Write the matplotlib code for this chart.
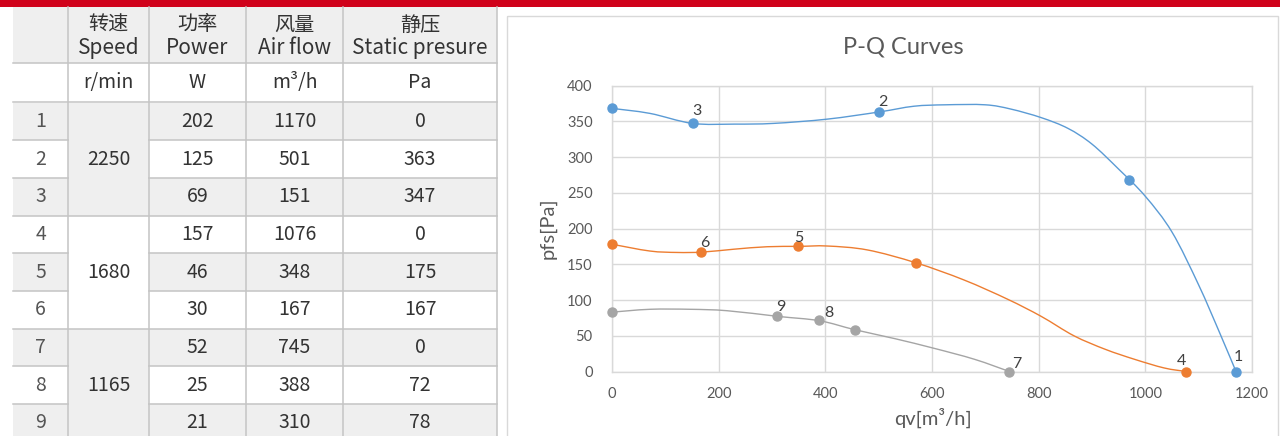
import numpy as np
import matplotlib
matplotlib.use("Agg")
import matplotlib.pyplot as plt
from matplotlib.path import Path
from matplotlib.patches import PathPatch, Rectangle

# ---------------- data ----------------
point_no = ["1", "2", "3", "4", "5", "6", "7", "8", "9"]
speed_groups = ["2250", "1680", "1165"]
power = [202, 125, 69, 157, 46, 30, 52, 25, 21]
airflow = [1170, 501, 151, 1076, 348, 167, 745, 388, 310]
pressure = [0, 363, 347, 0, 175, 167, 0, 72, 78]

header_cn = ["", "转速", "功率", "风量", "静压"]
header_en = ["", "Speed", "Power", "Air flow", "Static presure"]
header_unit = ["", "r/min", "W", "m³/h", "Pa"]

# curves (qv, pfs)
blue_q = [0, 71, 151, 230, 303, 404, 501, 566, 625, 700, 748, 805, 855, 900, 950, 1000, 1050, 1100, 1140, 1170]
blue_p = [368, 361, 347, 346, 347, 353, 363, 371, 373, 373, 367, 355, 340, 318, 283, 245, 195, 121, 53, 0]
orange_q = [0, 71, 122, 169, 228, 291, 350, 404, 479, 570, 660, 742, 805, 866, 925, 980, 1035, 1076]
orange_p = [178, 168.5, 166.5, 167, 171, 174.5, 175, 175.5, 170, 152, 128, 101, 77, 50, 31, 17, 5, 0]
gray_q = [0, 71, 147, 216, 312, 389, 455, 530, 604, 680, 745]
gray_p = [83, 87, 87, 85, 77, 71, 58.5, 46, 32.4, 17, 0]

# extra (unlabelled) markers
blue_extra_q, blue_extra_p = [0, 970], [368, 268]
orange_extra_q, orange_extra_p = [0, 570], [178, 152]
gray_extra_q, gray_extra_p = [0, 455], [83, 58.5]

x_ticks = [0, 200, 400, 600, 800, 1000, 1200]
y_ticks = [0, 50, 100, 150, 200, 250, 300, 350, 400]

BLUE, ORANGE, GRAY = "#5B9BD5", "#ED7D31", "#A5A5A5"

W, H = 1280, 436
fig = plt.figure(figsize=(W / 100, H / 100), dpi=100)
bg = fig.add_axes([0, 0, 1, 1])
bg.set_xlim(0, W)
bg.set_ylim(H, 0)
bg.axis("off")

CJK = ["Noto Sans CJK SC", "DejaVu Sans"]

# red bar
bg.add_patch(Rectangle((0, 0), W, 7.5, color="#D0021B", lw=0))

# ---------------- table ----------------
col_x = [13, 68, 149, 246, 343, 497]
col_c = [(col_x[i] + col_x[i + 1]) / 2 for i in range(5)]
h1_top, h1_bot, h2_bot = 7.5, 63.5, 102.5
row_h = 37.7
row_y = [h2_bot + i * row_h for i in range(10)]
cell_gray = "#EFEFEF"
line_c = "#C4C4C4"
txt_c = "#333333"

bg.add_patch(Rectangle((col_x[0], h1_top), col_x[-1] - col_x[0], h1_bot - h1_top, color=cell_gray, lw=0))
for i in range(9):
    if i % 2 == 0:
        for c in [0, 2, 3, 4]:
            bg.add_patch(Rectangle((col_x[c], row_y[i]), col_x[c + 1] - col_x[c], row_h, color=cell_gray, lw=0))
for g in range(3):
    if g % 2 == 0:
        bg.add_patch(Rectangle((col_x[1], row_y[3 * g]), col_x[2] - col_x[1], 3 * row_h, color=cell_gray, lw=0))

lw = 1.1
for y in [h1_bot, h2_bot]:
    bg.plot([col_x[0], col_x[-1]], [y, y], color=line_c, lw=lw)
for i in range(1, 10):
    y = row_y[i]
    if i % 3 == 0:
        bg.plot([col_x[0], col_x[-1]], [y, y], color=line_c, lw=lw)
    else:
        bg.plot([col_x[0], col_x[1]], [y, y], color=line_c, lw=lw)
        bg.plot([col_x[2], col_x[-1]], [y, y], color=line_c, lw=lw)
for x in col_x[1:]:
    bg.plot([x, x], [h1_top, H], color=line_c, lw=lw)

for c in range(1, 5):
    bg.text(col_c[c], 25, header_cn[c], ha="center", va="center", fontsize=14.5, color=txt_c, family=CJK)
    bg.text(col_c[c], 48, header_en[c], ha="center", va="center", fontsize=15, color=txt_c, family=CJK)
    bg.text(col_c[c], 82.5, header_unit[c], ha="center", va="center", fontsize=14, color=txt_c, family=CJK)

for i in range(9):
    yc = row_y[i] + row_h / 2
    bg.text(col_c[0], yc, point_no[i], ha="center", va="center", fontsize=14, color="#555555", family=CJK)
    bg.text(col_c[2], yc, str(power[i]), ha="center", va="center", fontsize=14, color=txt_c, family=CJK)
    bg.text(col_c[3], yc, str(airflow[i]), ha="center", va="center", fontsize=14, color=txt_c, family=CJK)
    bg.text(col_c[4], yc, str(pressure[i]), ha="center", va="center", fontsize=14, color=txt_c, family=CJK)
for g in range(3):
    yc = row_y[3 * g] + 1.5 * row_h
    bg.text(col_c[1], yc, speed_groups[g], ha="center", va="center", fontsize=14, color=txt_c, family=CJK)

# ---------------- chart panel ----------------
bg.add_patch(Rectangle((507, 16), 771, 440, fill=False, edgecolor="#D9D9D9", lw=1))
CF = ["Lato", "DejaVu Sans"]
bg.text(903, 47, "P-Q Curves", ha="center", va="center", fontsize=17, color="#595959", family=CF)
bg.text(548, 228, "pfs[Pa]", ha="center", va="center", rotation=90, fontsize=14.5, color="#595959", family=CF)
bg.text(933, 418, "qv[m³/h]", ha="center", va="center", fontsize=14.5, color="#595959", family=CF)

x0, x1, y400, y0 = 612, 1252, 85.5, 371.5
ax = fig.add_axes([x0 / W, (H - y0) / H, (x1 - x0) / W, (y0 - y400) / H])
ax.set_xlim(0, 1200)
ax.set_ylim(0, 400)
ax.set_xticks(x_ticks)
ax.set_yticks(y_ticks)
ax.grid(True, color="#D9D9D9", lw=1.0)
ax.set_axisbelow(True)
for s in ax.spines.values():
    s.set_color("#D9D9D9")
    s.set_linewidth(1.0)
ax.tick_params(length=0, labelsize=10.5, labelcolor="#595959")
ax.tick_params(axis="y", pad=14)
ax.tick_params(axis="x", pad=11)
for lab in ax.get_xticklabels() + ax.get_yticklabels():
    lab.set_family(CF)
ax.patch.set_alpha(0)


def smooth(xs, ys):
    pts = np.column_stack([xs, ys]).astype(float)
    n = len(pts)
    verts = [pts[0]]
    codes = [Path.MOVETO]
    for i in range(n - 1):
        p0 = pts[i - 1] if i > 0 else pts[i]
        p1, p2 = pts[i], pts[i + 1]
        p3 = pts[i + 2] if i + 2 < n else pts[i + 1]
        verts += [p1 + (p2 - p0) / 6, p2 - (p3 - p1) / 6, p2]
        codes += [Path.CURVE4] * 3
    return Path(verts, codes)


for qs, ps, col in [(blue_q, blue_p, BLUE), (orange_q, orange_p, ORANGE), (gray_q, gray_p, GRAY)]:
    ax.add_patch(PathPatch(smooth(qs, ps), fill=False, edgecolor=col, lw=1.0, clip_on=False))

ms = 6.5
for qs, ps, col in [(blue_extra_q, blue_extra_p, BLUE), (orange_extra_q, orange_extra_p, ORANGE), (gray_extra_q, gray_extra_p, GRAY)]:
    ax.plot(qs, ps, "o", color=col, ms=ms, clip_on=False, zorder=5)

cols = [BLUE] * 3 + [ORANGE] * 3 + [GRAY] * 3
offsets = [(2, 15), (4, 10), (4, 12), (-4, 11), (1, 8), (4, 9), (7, 8), (10, 7), (3, 9)]
for i in range(9):
    ax.plot(airflow[i], pressure[i], "o", color=cols[i], ms=ms, clip_on=False, zorder=5)
    ax.annotate(point_no[i], (airflow[i], pressure[i]), xytext=offsets[i], textcoords="offset pixels",
                ha="center", va="center", fontsize=11.5, color="#404040", family=CF, zorder=6,
                annotation_clip=False)

fig.savefig("out.png", dpi=100)
